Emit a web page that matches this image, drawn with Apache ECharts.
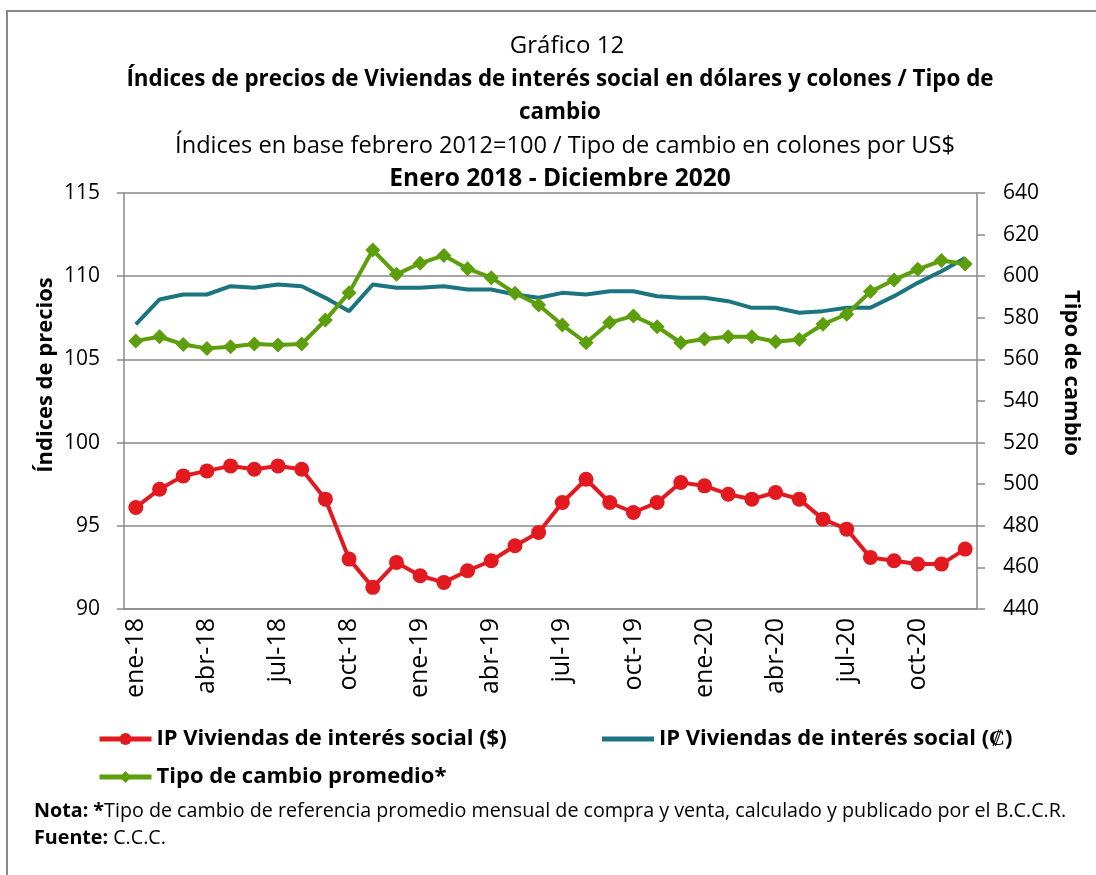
<!DOCTYPE html>
<html>
<head>
<meta charset="utf-8">
<title>Gráfico 12</title>
<script src="https://cdn.jsdelivr.net/npm/echarts@6/dist/echarts.min.js"></script>
<style>
  html, body { margin: 0; padding: 0; background: #fff; overflow: hidden; }
  #chart { width: 1096px; height: 875px; }
</style>
</head>
<body>
<div id="chart"></div>
<script>
// meses ene-18 .. dic-20
const months = [
  "ene-18", "feb-18", "mar-18", "abr-18", "may-18", "jun-18", "jul-18", "ago-18", "sep-18", "oct-18", "nov-18", "dic-18",
  "ene-19", "feb-19", "mar-19", "abr-19", "may-19", "jun-19", "jul-19", "ago-19", "sep-19", "oct-19", "nov-19", "dic-19",
  "ene-20", "feb-20", "mar-20", "abr-20", "may-20", "jun-20", "jul-20", "ago-20", "sep-20", "oct-20", "nov-20", "dic-20"
];

// IP viviendas de interés social en dólares (eje izq.)
const ipDolares = [
  96.1, 97.2, 98.0, 98.3, 98.6, 98.4, 98.6, 98.4, 96.6, 93.0, 91.3, 92.8,
  92.0, 91.6, 92.3, 92.9, 93.8, 94.6, 96.4, 97.8, 96.4, 95.8, 96.4, 97.6,
  97.4, 96.9, 96.6, 97.0, 96.6, 95.4, 94.8, 93.1, 92.9, 92.7, 92.7, 93.6
];

// IP viviendas de interés social en colones (eje izq.)
const ipColones = [
  107.1, 108.6, 108.9, 108.9, 109.4, 109.3, 109.5, 109.4, 108.7, 107.9, 109.5, 109.3,
  109.3, 109.4, 109.2, 109.2, 108.9, 108.7, 109.0, 108.9, 109.1, 109.1, 108.8, 108.7,
  108.7, 108.5, 108.1, 108.1, 107.8, 107.9, 108.1, 108.1, 108.8, 109.6, 110.3, 111.1
];

// tipo de cambio promedio, colones por US$ (eje der.)
const tipoCambio = [
  568.9, 570.9, 567.2, 565.3, 566.1, 567.4, 566.9, 567.4, 578.9, 592.1, 612.6, 600.9,
  606.2, 610.0, 603.6, 599.3, 591.8, 586.2, 576.5, 568.0, 577.7, 580.9, 575.7, 568.0,
  569.8, 570.9, 570.9, 568.5, 569.6, 576.9, 581.7, 592.6, 598.2, 603.3, 607.5, 605.9
];

const serieNames = [
  "IP Viviendas de interés social ($)",
  "IP Viviendas de interés social (₡)",
  "Tipo de cambio promedio*"
];

const axisGray = "#898989";
const font = "Open Sans";
const legendText = { fontFamily: font, fontWeight: "bold", fontSize: 22, color: "#000" };

let myChart = echarts.init(document.getElementById("chart"));
myChart.setOption({
  animation: false,
  backgroundColor: "#fff",
  grid: { left: 124, right: 119, top: 193, bottom: 266 },
  legend: [
    { data: [serieNames[0]], left: 92, top: 723, itemWidth: 52, itemHeight: 15, itemGap: 0, lineStyle: { width: 5 }, textStyle: legendText },
    { data: [{ name: serieNames[1], icon: "rect" }], left: 597, top: 723, itemWidth: 52, itemHeight: 5, itemGap: 0, textStyle: legendText },
    { data: [serieNames[2]], left: 92, top: 761, itemWidth: 52, itemHeight: 15, itemGap: 0, lineStyle: { width: 5 }, textStyle: legendText }
  ],
  xAxis: {
    type: "category",
    data: months,
    boundaryGap: true,
    axisLine: { lineStyle: { color: axisGray, width: 1.5 } },
    axisTick: { interval: 2, length: 7, lineStyle: { color: axisGray, width: 1.5 } },
    axisLabel: {
      interval: 2,
      rotate: 90,
      margin: 9,
      color: "#000",
      fontFamily: font,
      fontSize: 25
    }
  },
  yAxis: [
    {
      type: "value",
      min: 90,
      max: 115,
      interval: 5,
      axisLine: { show: true, lineStyle: { color: axisGray, width: 1.5 } },
      axisTick: { show: true, length: 7, lineStyle: { color: axisGray, width: 1.5 } },
      axisLabel: { margin: 24, color: "#000", fontFamily: font, fontSize: 21 },
      splitLine: { show: true, lineStyle: { color: axisGray, width: 1.5 } }
    },
    {
      type: "value",
      min: 440,
      max: 640,
      interval: 20,
      position: "right",
      axisLine: { show: true, lineStyle: { color: axisGray, width: 1.5 } },
      axisTick: { show: true, length: 8, lineStyle: { color: axisGray, width: 1.5 } },
      axisLabel: { margin: 26, color: "#000", fontFamily: font, fontSize: 21 },
      splitLine: { show: false }
    }
  ],
  series: [
    {
      name: serieNames[0],
      type: "line",
      yAxisIndex: 0,
      data: ipDolares,
      symbol: "circle",
      symbolSize: 15,
      color: "#E2191F",
      lineStyle: { width: 4 },
      z: 4
    },
    {
      name: serieNames[1],
      type: "line",
      yAxisIndex: 0,
      data: ipColones,
      symbol: "none",
      color: "#1B7480",
      lineStyle: { width: 4 },
      z: 2
    },
    {
      name: serieNames[2],
      type: "line",
      yAxisIndex: 1,
      data: tipoCambio,
      symbol: "diamond",
      symbolSize: 15,
      color: "#5C9E0B",
      lineStyle: { width: 4 },
      z: 3
    }
  ],
  graphic: [
    {
      type: "rect",
      silent: true,
      shape: { x: 7, y: 11, width: 1200, height: 1000 },
      style: { fill: "none", stroke: "#8a8a8a", lineWidth: 2 }
    },
    {
      type: "text", x: 567, y: 46,
      style: { text: "Gráfico 12", font: "24px 'Open Sans'", fill: "#000", textAlign: "center", textVerticalAlign: "middle" }
    },
    {
      type: "text", x: 560, y: 80,
      style: { text: "Índices de precios de Viviendas de interés social en dólares y colones / Tipo de", font: "bold 22.4px 'Open Sans'", fill: "#000", textAlign: "center", textVerticalAlign: "middle" }
    },
    {
      type: "text", x: 560, y: 113,
      style: { text: "cambio", font: "bold 22.4px 'Open Sans'", fill: "#000", textAlign: "center", textVerticalAlign: "middle" }
    },
    {
      type: "text", x: 565, y: 146,
      style: { text: "Índices en base febrero 2012=100 / Tipo de cambio en colones por US$", font: "23.6px 'Open Sans'", fill: "#000", textAlign: "center", textVerticalAlign: "middle" }
    },
    {
      type: "text", x: 560, y: 179,
      style: { text: "Enero 2018 - Diciembre 2020", font: "bold 24.5px 'Open Sans'", fill: "#000", textAlign: "center", textVerticalAlign: "middle" }
    },
    {
      type: "text", x: 46, y: 375, rotation: Math.PI / 2,
      style: { text: "Índices de precios", font: "bold 22px 'Open Sans'", fill: "#000", textAlign: "center", textVerticalAlign: "middle" }
    },
    {
      type: "text", x: 1071, y: 373, rotation: -Math.PI / 2,
      style: { text: "Tipo de cambio", font: "bold 22px 'Open Sans'", fill: "#000", textAlign: "center", textVerticalAlign: "middle" }
    },
    {
      type: "text", x: 34, y: 811,
      style: {
        text: "{b|Nota: *}Tipo de cambio de referencia promedio mensual de compra y venta, calculado y publicado por el B.C.C.R.",
        font: "19.7px 'Open Sans'", fill: "#000", textVerticalAlign: "middle",
        rich: { b: { font: "bold 19.7px 'Open Sans'", fill: "#000" } }
      }
    },
    {
      type: "text", x: 34, y: 838,
      style: {
        text: "{b|Fuente:} C.C.C.",
        font: "19.7px 'Open Sans'", fill: "#000", textVerticalAlign: "middle",
        rich: { b: { font: "bold 19.7px 'Open Sans'", fill: "#000" } }
      }
    }
  ]
});
</script>
</body>
</html>
